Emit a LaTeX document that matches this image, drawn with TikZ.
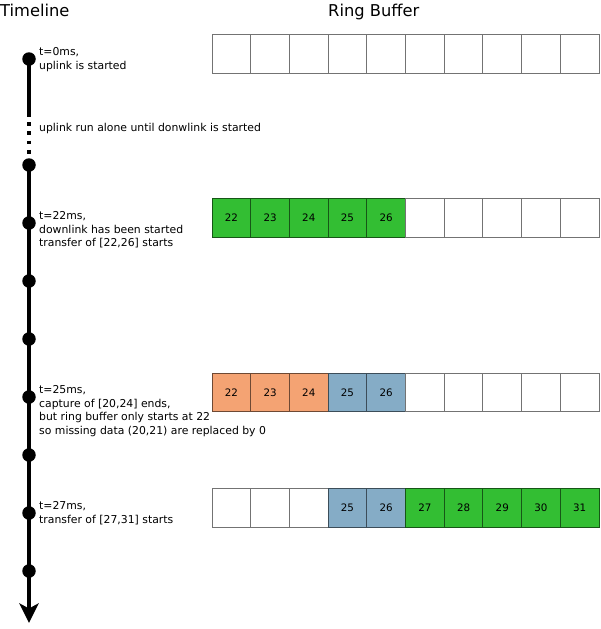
\documentclass[tikz,border=0pt]{standalone}
\usepackage{fontspec}
\setmainfont{DejaVu Sans}
\usetikzlibrary{arrows.meta}

\definecolor{sentgreen}{HTML}{33BE33}
\definecolor{capturedorange}{HTML}{F4A373}
\definecolor{heldblue}{HTML}{85ACC6}

\tikzset{
  title/.style={anchor=base west, inner sep=0pt, font=\fontsize{16.3}{19}\selectfont},
  note/.style={anchor=north west, inner sep=0pt, align=left, font=\fontsize{10.85}{13.6}\selectfont},
  cell/.style={draw=black!55, line width=0.9pt, minimum width=38.7pt, minimum height=38.3pt,
    inner sep=0pt, outer sep=0pt, font=\fontsize{10.3}{12}\selectfont},
  sent/.style={cell, fill=sentgreen, draw=sentgreen!45!black},
  captured/.style={cell, fill=capturedorange, draw=capturedorange!45!black},
  held/.style={cell, fill=heldblue, draw=heldblue!45!black},
  event/.style={circle, fill=black, minimum size=13.5pt, inner sep=0pt},
  axis/.style={line width=4pt},
  gapaxis/.style={line width=3.6pt, dash pattern=on 3.6pt off 5.7pt},
}

\begin{document}
\begin{tikzpicture}[x=1pt, y=-1pt]
  \useasboundingbox (0,0) rectangle (600,629);

  % headings
  \node[title] (tl) at (0,16.5) {Timeline};
  \node[title] (rb) at (328,16.5) {Ring Buffer};

  % timeline skeleton
  \coordinate (solidend) at (29,116.5);
  \coordinate (gapstart) at (29,122);
  \coordinate (tip) at (29,623);
  \foreach \i/\y in {1/59, 2/165, 3/223, 4/281, 5/339, 6/397, 7/455, 8/513, 9/571}
    \coordinate (e\i) at (29,\y);

  \draw[axis] (e1) -- (solidend);
  \draw[gapaxis] (gapstart) -- (e2);
  \draw[axis, -{Stealth[length=19.5pt, width=19pt, inset=5pt]}] (e2) -- (tip);

  \foreach \i in {1,...,9}
    \node[event] (d\i) at (e\i) {};

  % notes beside the events
  \node[note] (n1) at (39,46) {\strut t=0ms,\\uplink is started};
  \node[note, anchor=base west] (n2) at (39,131) {uplink run alone until donwlink is started};
  \node[note] (n3) at (39,210) {\strut t=22ms,\\downlink has been started\\transfer of [22,26] starts};
  \node[note] (n4) at (39,384) {\strut t=25ms,\\capture of [20,24] ends,\\but ring buffer only starts at 22\\so missing data (20,21) are replaced by 0};
  \node[note] (n5) at (39,500) {\strut t=27ms,\\transfer of [27,31] starts};

  % ring buffer snapshots
  \foreach \k in {0,...,9}
    \node[cell] (a\k) at ({231.35+38.7*\k},54) {};

  \foreach \k/\v in {0/22, 1/23, 2/24, 3/25, 4/26}
    \node[sent] (b\k) at ({231.35+38.7*\k},218) {\v};
  \foreach \k in {5,...,9}
    \node[cell] (b\k) at ({231.35+38.7*\k},218) {};

  \foreach \k/\v in {0/22, 1/23, 2/24}
    \node[captured] (c\k) at ({231.35+38.7*\k},392.5) {\v};
  \foreach \k/\v in {3/25, 4/26}
    \node[held] (c\k) at ({231.35+38.7*\k},392.5) {\v};
  \foreach \k in {5,...,9}
    \node[cell] (c\k) at ({231.35+38.7*\k},392.5) {};

  \foreach \k in {0,1,2}
    \node[cell] (f\k) at ({231.35+38.7*\k},508) {};
  \foreach \k/\v in {3/25, 4/26}
    \node[held] (f\k) at ({231.35+38.7*\k},508) {\v};
  \foreach \k/\v in {5/27, 6/28, 7/29, 8/30, 9/31}
    \node[sent] (f\k) at ({231.35+38.7*\k},508) {\v};
\end{tikzpicture}
\end{document}
